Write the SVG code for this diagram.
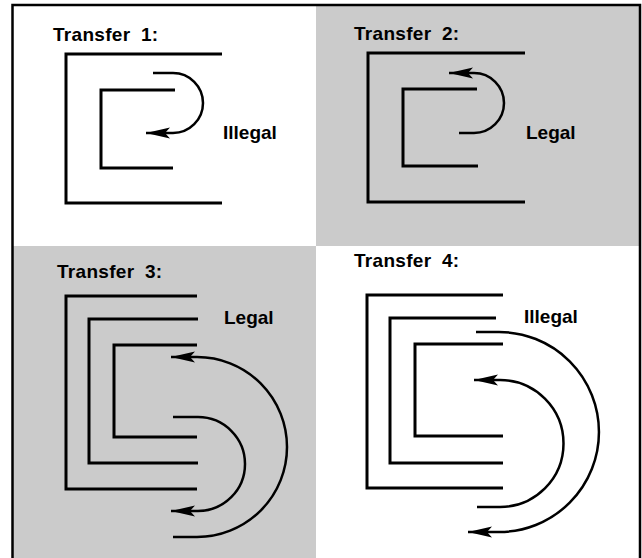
<svg xmlns="http://www.w3.org/2000/svg" width="642" height="558" viewBox="0 0 642 558">
<style>
.bg{fill:#ffffff}
.shade{fill:#cbcbcb}
.frame{fill:none;stroke:#000;stroke-width:2.5}
.br{fill:none;stroke:#000;stroke-width:3;stroke-linejoin:miter}
.arc{fill:none;stroke:#000;stroke-width:2.5;marker-end:url(#ah)}
.title{font-family:"Liberation Sans",Arial,sans-serif;font-weight:bold;font-size:19px;letter-spacing:0.3px;word-spacing:5px;fill:#000}
.lbl{font-family:"Liberation Sans",Arial,sans-serif;font-weight:bold;font-size:19px;fill:#000}
</style>
<defs>
<marker id="ah" markerUnits="userSpaceOnUse" viewBox="-26 -7 28 14" markerWidth="28" markerHeight="14" refX="0" refY="0" orient="auto">
<path d="M0,0 L-24,-5.5 L-19,0 L-24,5.5 Z" fill="#000"/>
</marker>
</defs>
<rect class="bg" x="0" y="0" width="642" height="558"/>
<rect class="shade" x="316" y="5" width="324" height="241"/>
<rect class="shade" x="12" y="246" width="304" height="312"/>
<path class="frame" d="M12.5,558 V5 H640 V558"/>

<g id="transfer1">
<text class="title" x="53" y="41">Transfer 1:</text>
<path class="br" d="M222,54 H66 V203 H222"/>
<path class="br" d="M175,90 H101 V168 H173"/>
<text class="lbl" x="223" y="139">Illegal</text>
</g>

<g id="transfer2">
<text class="title" x="354" y="40">Transfer 2:</text>
<path class="br" d="M525,53 H368 V202 H525"/>
<path class="br" d="M477,89 H403 V166 H478"/>
<text class="lbl" x="526" y="139">Legal</text>
</g>

<g id="transfer3">
<text class="title" x="57" y="278">Transfer 3:</text>
<path class="br" d="M197,296 H66 V489 H197"/>
<path class="br" d="M198,319 H89 V463 H198"/>
<path class="br" d="M197,345 H114 V437 H197"/>
<text class="lbl" x="224" y="324">Legal</text>
</g>

<g id="transfer4">
<text class="title" x="354" y="267">Transfer 4:</text>
<path class="br" d="M503,295 H367 V488 H503"/>
<path class="br" d="M496,318 H390 V463 H503"/>
<path class="br" d="M503,344 H415 V436 H503"/>
<text class="lbl" x="524" y="323">Illegal</text>
</g>

<g id="connectors">
<path class="arc" d="M153,73 H173 A30,30 0 0 1 173,133 H146"/>
<path class="arc" d="M459,133 H474 A30,30 0 0 0 474,73 H449"/>
<path class="arc" d="M173,417 H198 A47,47 0 0 1 198,511 H171"/>
<path class="arc" d="M173,537 H197 A90,90 0 0 0 197,357 H171"/>
<path class="arc" d="M476,332 H499 A100,100 0 0 1 499,532 H468"/>
<path class="arc" d="M477,507 H500 A63.5,63.5 0 0 0 500,380 H474"/>
</g>
</svg>
